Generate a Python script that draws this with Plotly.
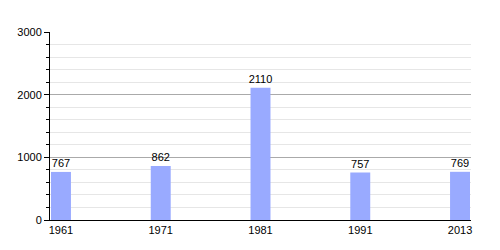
import plotly.graph_objects as go

years = ["1961", "1971", "1981", "1991", "2013"]
population = [767, 862, 2110, 757, 769]
y_ticks = [0, 1000, 2000, 3000]

fig = go.Figure(go.Bar(
    x=years, y=population,
    text=[str(v) for v in population],
    textposition="outside",
    constraintext="none",
    textfont=dict(family="Liberation Sans, Arial", size=11, color="#000"),
    marker=dict(color="#99aaff", line=dict(width=0)),
    width=0.2,
    cliponaxis=False,
))

fig.update_layout(
    width=500, height=250,
    margin=dict(l=50, r=29, t=32, b=30),
    paper_bgcolor="white", plot_bgcolor="white",
    showlegend=False,
    font=dict(family="Liberation Sans, Arial", size=11, color="#000"),
    xaxis=dict(
        type="category", range=[-0.11, 4.11],
        showline=True, linecolor="#000", linewidth=1,
        ticks="", showgrid=False, tickfont=dict(size=11),
    ),
    yaxis=dict(
        range=[0, 3000], tickvals=y_ticks,
        showline=True, linecolor="#000", linewidth=1,
        ticks="outside", ticklen=5, tickcolor="#000",
        showgrid=True, gridcolor="#aaaaaa", gridwidth=1,
        zeroline=False, tickfont=dict(size=11),
        minor=dict(dtick=200, ticks="outside", ticklen=3, tickcolor="#000",
                   showgrid=True, gridcolor="#e6e6e6", gridwidth=1),
    ),
)

fig.write_html("out.html")
